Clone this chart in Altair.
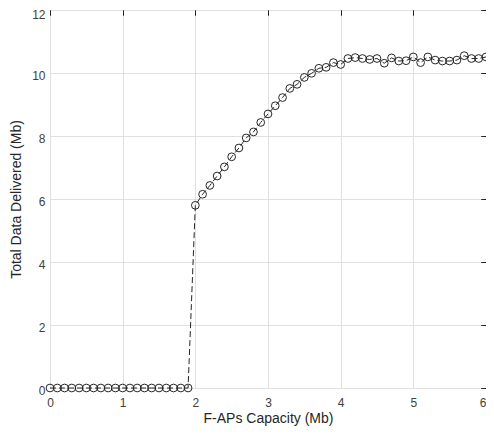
import altair as alt
import pandas as pd

capacity = [0.0, 0.1, 0.2, 0.3, 0.4, 0.5, 0.6, 0.7, 0.8, 0.9,
            1.0, 1.1, 1.2, 1.3, 1.4, 1.5, 1.6, 1.7, 1.8, 1.9,
            2.0, 2.1, 2.2, 2.3, 2.4, 2.5, 2.6, 2.7, 2.8, 2.9,
            3.0, 3.1, 3.2, 3.3, 3.4, 3.5, 3.6, 3.7, 3.8, 3.9,
            4.0, 4.1, 4.2, 4.3, 4.4, 4.5, 4.6, 4.7, 4.8, 4.9,
            5.0, 5.1, 5.2, 5.3, 5.4, 5.5, 5.6, 5.7, 5.8, 5.9, 6.0]
delivered = [0, 0, 0, 0, 0, 0, 0, 0, 0, 0,
             0, 0, 0, 0, 0, 0, 0, 0, 0, 0,
             5.80, 6.15, 6.43, 6.73, 7.02, 7.34, 7.62, 7.94, 8.13, 8.43,
             8.70, 8.96, 9.22, 9.51, 9.64, 9.86, 9.99, 10.15, 10.18, 10.33,
             10.27, 10.46, 10.49, 10.46, 10.43, 10.46, 10.31, 10.48, 10.38, 10.39,
             10.51, 10.33, 10.51, 10.41, 10.38, 10.38, 10.41, 10.55, 10.46, 10.46, 10.51]

x_ticks = [0, 1, 2, 3, 4, 5, 6]
y_ticks = [0, 2, 4, 6, 8, 10, 12]

df = pd.DataFrame({"cap": capacity, "data": delivered})

INK = "#262626"
xscale = alt.Scale(domain=[0, 6], nice=False, zero=False)
yscale = alt.Scale(domain=[0, 12], nice=False)

line = alt.Chart(df).mark_line(strokeDash=[6, 3], color=INK, strokeWidth=1).encode(
    x=alt.X("cap:Q", scale=xscale,
            axis=alt.Axis(title="F-APs Capacity (Mb)", values=x_ticks, grid=True,
                          gridColor="#e0e0e0", ticks=False, domain=False,
                          labelFlush=False,
                          labelAlign={"condition": {"test": "datum.value == 6", "value": "right"},
                                      "value": "center"},
                          labelPadding=9, titlePadding=3)),
    y=alt.Y("data:Q", scale=yscale,
            axis=alt.Axis(title="Total Data Delivered (Mb)", values=y_ticks, grid=True,
                          gridColor="#e0e0e0", ticks=False, domain=False,
                          labelPadding=5,
                          labelOffset={"condition": {"test": "datum.value == 12", "value": 4},
                                       "value": 2},
                          titlePadding=8)),
)

points = alt.Chart(df).mark_point(shape="circle", filled=False, size=60,
                                  color=INK, strokeWidth=1, opacity=1).encode(
    x=alt.X("cap:Q", scale=xscale,
            axis=alt.Axis(title=None, values=x_ticks, grid=False, labels=False,
                          domain=False, ticks=True, tickSize=5, tickColor=INK,
                          offset=-5)),
    y=alt.Y("data:Q", scale=yscale,
            axis=alt.Axis(title=None, values=y_ticks, grid=False, labels=False,
                          domain=False, ticks=True, tickSize=5, tickColor=INK,
                          offset=-5)),
)

ghost = alt.Chart(df).mark_point(opacity=0).encode(
    x=alt.X("cap:Q", scale=xscale,
            axis=alt.Axis(title=None, orient="top", values=x_ticks, grid=False,
                          labels=False, domain=False, ticks=True, tickSize=5,
                          tickColor=INK, offset=-5)),
    y=alt.Y("data:Q", scale=yscale,
            axis=alt.Axis(title=None, orient="right", values=y_ticks, grid=False,
                          labels=False, domain=False, ticks=True, tickSize=5,
                          tickColor=INK, offset=-5)),
)

chart = alt.layer(line, points, ghost).resolve_axis(
    x="independent", y="independent"
).properties(
    width=436, height=378,
    autosize=alt.AutoSizeParams(type="none"),
    padding={"left": 42, "top": 2, "right": 0, "bottom": 38},
).configure_view(
    stroke=INK, strokeWidth=1
).configure_axis(
    labelFont="Liberation Sans", titleFont="Liberation Sans",
    labelColor="#404040", titleColor="#262626",
    labelFontSize=12, titleFontSize=14, titleFontWeight="normal",
)

chart.save("out.html", embed_options={"renderer": "svg", "actions": False})
